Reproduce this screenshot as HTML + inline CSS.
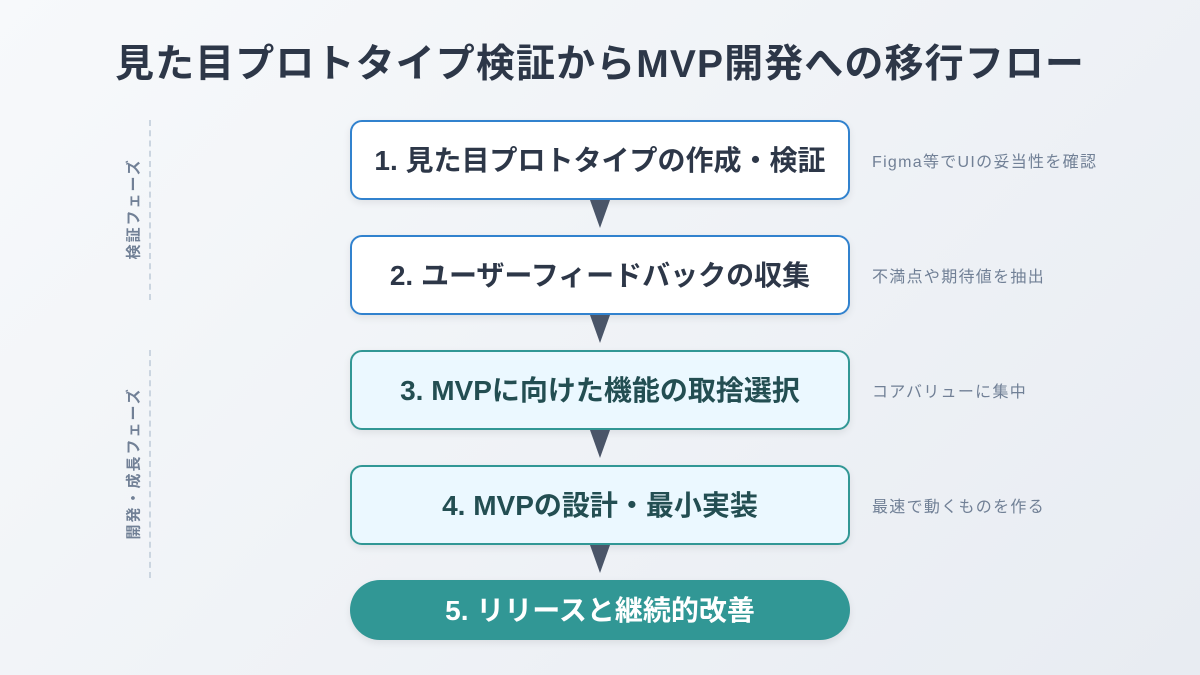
<!DOCTYPE html>
<html><head><meta charset="utf-8"><style>
body{margin:0;width:1200px;height:675px;overflow:hidden;background:linear-gradient(135deg,#f7f9fb,#e8ecf2);font-family:"Liberation Sans","Noto Sans CJK JP",sans-serif;position:relative}
.t{position:absolute;left:0;width:1200px;top:33px;text-align:center;font-size:39px;font-weight:bold;color:#2d3748;letter-spacing:1.1px}
.b{position:absolute;left:350px;width:500px;height:80px;box-sizing:border-box;border-radius:12px;display:flex;align-items:center;justify-content:center;font-size:28px;font-weight:bold;box-shadow:0 3px 8px rgba(0,0,0,.08);padding-bottom:3px}
.w{background:#fff;border:2px solid #3182ce;color:#2d3748}
.g{background:#ebf8ff;border:2px solid #319795;color:#234e52}
.p{background:#319795;color:#fff;height:60px;border-radius:30px}
.n{position:absolute;left:872px;font-size:16px;color:#718096;letter-spacing:1.3px}
.a{position:absolute;left:590px;width:0;height:0;border-left:10px solid transparent;border-right:10px solid transparent;border-top:28px solid #4a5568}
.d{position:absolute;left:149px;border-left:2px dashed #cbd5e0}
.v{position:absolute;font-size:15px;font-weight:bold;color:#718096;transform:rotate(-90deg);white-space:nowrap;letter-spacing:2px}
</style></head><body>
<div class="t">見た目プロトタイプ検証からMVP開発への移行フロー</div>
<div class="d" style="top:120px;height:180px"></div>
<div class="d" style="top:350px;height:228px"></div>
<div class="v" style="left:83px;top:199px;width:100px;text-align:center">検証フェーズ</div>
<div class="v" style="left:58px;top:454px;width:150px;text-align:center">開発・成長フェーズ</div>
<div class="b w" style="top:120px">1. 見た目プロトタイプの作成・検証</div>
<div class="b w" style="top:235px">2. ユーザーフィードバックの収集</div>
<div class="b g" style="top:350px">3. MVPに向けた機能の取捨選択</div>
<div class="b g" style="top:465px">4. MVPの設計・最小実装</div>
<div class="b p" style="top:580px">5. リリースと継続的改善</div>
<div class="a" style="top:200px"></div>
<div class="a" style="top:315px"></div>
<div class="a" style="top:430px"></div>
<div class="a" style="top:545px"></div>
<div class="n" style="top:148px">Figma等でUIの妥当性を確認</div>
<div class="n" style="top:263px">不満点や期待値を抽出</div>
<div class="n" style="top:378px">コアバリューに集中</div>
<div class="n" style="top:493px">最速で動くものを作る</div>
</body></html>
